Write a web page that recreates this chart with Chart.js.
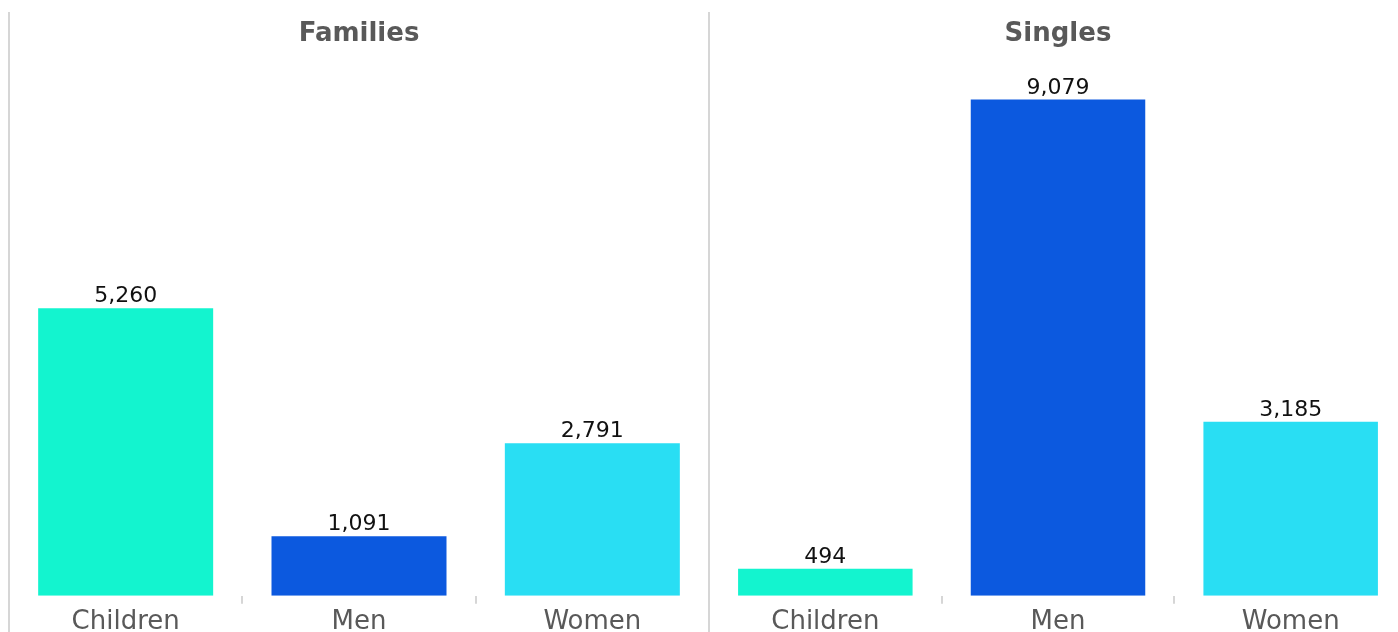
<!DOCTYPE html>
<html>
<head>
<meta charset="utf-8">
<script src="https://cdn.jsdelivr.net/npm/chart.js@4/dist/chart.umd.min.js"></script>
<style>
  html, body { margin: 0; padding: 0; background: #ffffff; width: 1398px; height: 632px; overflow: hidden; position: relative; }
  .panel { position: absolute; top: 12px; height: 629px; width: 710px; }
  #p1 { left: 0px; }
  #p2 { left: 700px; }
</style>
</head>
<body>
<div class="panel" id="p1"><canvas id="c1" width="710" height="629"></canvas></div>
<div class="panel" id="p2"><canvas id="c2" width="710" height="629"></canvas></div>
<script>
const categories = ['Children', 'Men', 'Women'];
const familiesValues = [5260, 1091, 2791];
const singlesValues = [494, 9079, 3185];
const panelTitles = ['Families', 'Singles'];
const barColors = ['#13F4CF', '#0C59DF', '#29DEF3'];
const yMax = 10000;

const FONT = 'Verdana, "DejaVu Sans", sans-serif';

const panelLine = {
  id: 'panelLine',
  beforeDraw(chart) {
    const ctx = chart.ctx;
    const x = Math.round(chart.chartArea.left);
    ctx.save();
    ctx.strokeStyle = '#d6d6d6';
    ctx.lineWidth = 2;
    ctx.beginPath();
    ctx.moveTo(x, 0);
    ctx.lineTo(x, chart.height);
    ctx.stroke();
    ctx.restore();
  }
};

const valueLabels = {
  id: 'valueLabels',
  afterDatasetsDraw(chart) {
    const ctx = chart.ctx;
    ctx.save();
    ctx.font = '22px ' + FONT;
    ctx.fillStyle = '#111111';
    ctx.textAlign = 'center';
    ctx.textBaseline = 'alphabetic';
    chart.data.datasets.forEach((ds, di) => {
      const meta = chart.getDatasetMeta(di);
      meta.data.forEach((bar, i) => {
        ctx.fillText(ds.data[i].toLocaleString('en-US'), bar.x, bar.y - 6);
      });
    });
    ctx.restore();
  }
};

function makeChart(id, title, values, padRight) {
  return new Chart(document.getElementById(id), {
    type: 'bar',
    data: {
      labels: categories,
      datasets: [{
        data: values,
        backgroundColor: barColors,
        borderWidth: 0,
        categoryPercentage: 1.0,
        barPercentage: 0.75
      }]
    },
    options: {
      responsive: false,
      animation: false,
      devicePixelRatio: 1,
      layout: { padding: { left: 9, right: padRight, top: 0, bottom: 0 } },
      plugins: {
        legend: { display: false },
        tooltip: { enabled: false },
        title: {
          display: true,
          text: title,
          color: '#595959',
          font: { family: FONT, size: 26, weight: 'bold' },
          padding: { top: 7, bottom: -1 }
        }
      },
      scales: {
        x: {
          grid: {
            display: true,
            drawOnChartArea: false,
            drawTicks: true,
            tickLength: 8,
            color: '#d6d6d6',
            lineWidth: 2,
            offset: true
          },
          border: { display: false },
          ticks: {
            color: '#595959',
            font: { family: FONT, size: 26 },
            padding: 3,
            maxRotation: 0
          }
        },
        y: {
          display: false,
          min: 0,
          max: yMax
        }
      }
    },
    plugins: [panelLine, valueLabels]
  });
}

makeChart('c1', panelTitles[0], familiesValues, 1);
makeChart('c2', panelTitles[1], singlesValues, 3);
</script>
</body>
</html>
